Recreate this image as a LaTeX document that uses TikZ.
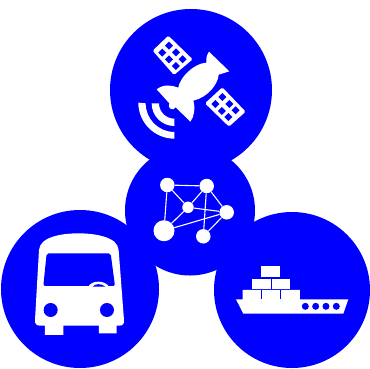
\documentclass[tikz,border=0pt]{standalone}
\definecolor{pureblue}{RGB}{0,0,255}
\tikzset{
  disc/.style={circle,fill=pureblue,draw=none,inner sep=0pt,minimum size=#1},
  vertexdot/.style={circle,fill=white,draw=none,inner sep=0pt,minimum size=#1},
  netedge/.style={draw=white,line width=1.1pt},
  icon/.style={fill=white,draw=none},
  hole/.style={fill=pureblue,draw=none}
}
\begin{document}
\begin{tikzpicture}[x=1pt,y=-1pt]
\useasboundingbox (0,0) rectangle (370,368);
\fill[white] (0,0) rectangle (370,368);
% discs
\node[disc=162pt] (sat) at (191,90) {};
\node[disc=130pt] (net) at (190,210.5) {};
\node[disc=158pt] (bus) at (80,289) {};
\node[disc=156pt] (ship) at (292,290) {};
% network
\node[vertexdot=14.5pt] (a) at (167.3,185) {};
\node[vertexdot=14.5pt] (b) at (206.7,186) {};
\node[vertexdot=11.5pt] (c) at (188,207.3) {};
\node[vertexdot=14.5pt] (d) at (226.7,212.3) {};
\node[vertexdot=21pt] (e) at (164,230.7) {};
\node[vertexdot=14.5pt] (f) at (203.3,236.3) {};
\foreach \p/\q in {a/b,a/c,a/e,b/c,b/d,b/f,c/d,c/e,e/d,f/d}
  \draw[netedge] (\p) -- (\q);
% satellite
\begin{scope}[shift={(110,0)},x=0.3333pt,y=-0.3333pt]
  \fill[icon,rounded corners=1.5pt] (175,107) -- (248,178) -- (192,225) -- (128,152) -- cycle;
  \fill[icon,rounded corners=1.5pt] (337,262) -- (407,335) -- (357,380) -- (285,310) -- cycle;
  \foreach \hx/\hy in {177/137,198/157,218/178,157/158,177/178,198/198,337/291,358/312,377/331,316/312,336/333,355/351}
    \fill[hole] (\hx-12,\hy) -- (\hx,\hy-12) -- (\hx+12,\hy) -- (\hx,\hy+12) -- cycle;
  \fill[icon] (297,155) -- (358,214) -- (326,224)
     .. controls (325,250) and (295,292) .. (250,302)
     .. controls (256,325) and (253,350) .. (241,365)
     -- (197,322)
     .. controls (190,335) and (170,325) .. (178,310)
     -- (140,268)
     .. controls (160,252) and (185,255) .. (205,263)
     .. controls (208,235) and (250,190) .. (289,188)
     .. controls (288,175) and (290,165) .. (297,155) -- cycle;
  \fill[icon] (193,378) arc (90:180:68) -- (147,310) arc (180:90:46) -- cycle;
  \fill[icon] (193,416) arc (90:180:108) -- (107,310) arc (180:90:86) -- cycle;
\end{scope}
% bus
\begin{scope}[shift={(0,210)},x=0.3333pt,y=-0.3333pt]
  \fill[icon] (235,70) .. controls (190,70) and (150,78) .. (130,95)
    .. controls (122,102) and (118,110) .. (117,120)
    -- (105,330) .. controls (104,342) and (110,347) .. (120,347)
    -- (135,347) -- (135,375) -- (190,375) -- (190,347) -- (297,347) -- (297,370) -- (350,370) -- (350,347)
    -- (358,347) .. controls (368,347) and (373,342) .. (372,330)
    -- (356,120) .. controls (355,110) and (350,102) .. (343,95)
    .. controls (322,78) and (280,70) .. (235,70) -- cycle;
  \fill[hole,rounded corners=2pt] (140,130) -- (332,130) -- (345,228) -- (130,228) -- cycle;
  \fill[icon] (265,230) .. controls (275,210) and (315,210) .. (327,230) -- cycle;
  \fill[hole] (278,230) .. controls (285,220) and (305,220) .. (316,230) -- cycle;
  \fill[hole] (152,300) circle[radius=21];
  \fill[hole] (321,300) circle[radius=21];
\end{scope}
% ship
\begin{scope}[shift={(210,210)},x=0.3333pt,y=-0.3333pt]
  \fill[icon] (78,268) -- (98,268) -- (98,240) -- (270,240) -- (270,268) -- (415,268) -- (400,311) -- (100,311) -- cycle;
  \fill[hole] (153.5,240) rectangle (156.5,268);
  \fill[hole] (211.5,240) rectangle (214.5,268);
  \fill[icon] (127,206) rectangle (182,236);
  \fill[icon] (186,206) rectangle (241,236);
  \fill[icon] (154,168) rectangle (209,200);
  \foreach \hx in {286,317,348,379}
    \fill[hole] (\hx,289) circle[radius=10.5];
\end{scope}
\end{tikzpicture}
\end{document}
